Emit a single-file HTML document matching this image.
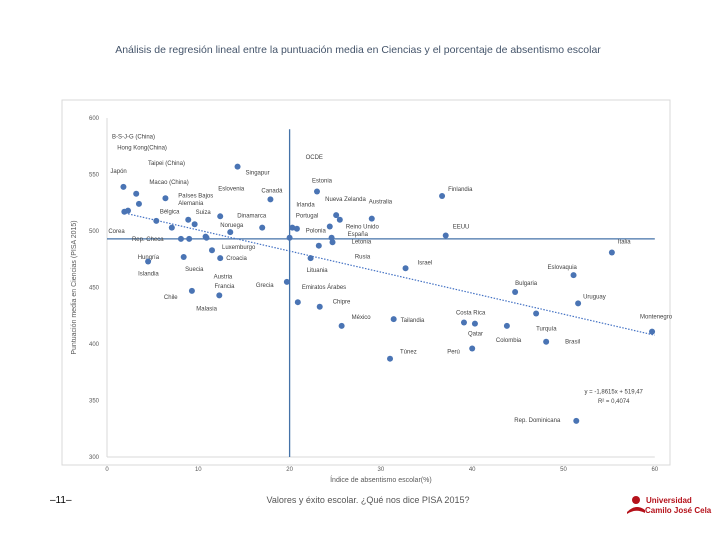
<!DOCTYPE html>
<html><head><meta charset="utf-8"><style>
body{margin:0;background:#fff;font-family:"Liberation Sans",sans-serif}
#wrap{position:relative;width:720px;height:540px;overflow:hidden}
</style></head><body>
<div id="wrap">
<svg id="svg" width="720" height="540">
<text x="358" y="53" text-anchor="middle" font-size="10.5" fill="#44546a">Análisis de regresión lineal entre la puntuación media en Ciencias y el porcentaje de absentismo escolar</text>
<rect x="62" y="100" width="608" height="365" fill="none" stroke="#d9d9d9"/>
<text x="50" y="503" font-size="10" fill="#000">–11–</text>
<text x="368" y="503" text-anchor="middle" font-size="9" fill="#555">Valores y éxito escolar. ¿Qué nos dice PISA 2015?</text>
<g>
<circle cx="636" cy="500" r="4" fill="#b5121b"/>
<path d="M627 512 Q636 503 645 510 L645 513 Q636 508 627 514Z" fill="#b5121b"/>
<text x="646" y="503" font-size="8" font-weight="bold" fill="#b5121b">Universidad</text>
<text x="645" y="513" font-size="8" font-weight="bold" fill="#b5121b">Camilo José Cela</text>
</g>
<g id="g"></g>
</svg>
</div>
<script>
const names=["Japón","B-S-J-G (China)","Corea","Hong Kong(China)","Taipei (China)","Macao (China)","Países Bajos","Bélgica","Suiza","Alemania","Eslovenia","Noruega","Dinamarca","Canadá","Singapur","Rep. Checa","Suecia","Luxemburgo","Croacia","Austria","Hungría","Islandia","Chile","Malasia","Grecia","OCDE","Irlanda","Portugal","Estonia","Nueva Zelanda","Reino Unido","Polonia","Australia","Finlandia","EEUU","España","Letonia","Rusia","Lituania","Israel","Italia","Eslovaquia","Bulgaria","Uruguay","Montenegro","Turquía","Brasil","Colombia","Costa Rica","Qatar","Perú","Túnez","Tailandia","México","Chipre","Emiratos Árabes","Rep. Dominicana","Francia"];
const absent=[1.8,2.3,1.9,3.2,3.5,6.4,8.9,7.1,9.6,5.4,12.4,13.5,17,17.9,14.3,8.1,9,11.5,12.4,10.8,8.4,4.5,9.3,12.3,19.7,20,20.3,20.8,23,25.1,25.5,24.4,29,36.7,37.1,24.6,24.7,23.2,22.3,32.7,55.3,51.1,44.7,51.6,59.7,47,48.1,43.8,39.1,40.3,40,31,31.4,25.7,23.3,20.9,51.4,10.9];
const score=[539,518,517,533,524,529,510,503,506,509,513,499,503,528,557,493,493,483,476,495,477,473,447,443,455,494,503,502,535,514,510,504,511,531,496,494,490,487,476,467,481,461,446,436,411,427,402,416,419,418,396,387,422,416,433,437,332,494];
const xTicks=[0,10,20,30,40,50,60];
const yTicks=[300,350,400,450,500,550,600];
const slope=-1.8615, intercept=519.47, meanScore=493, meanAbsent=20;
// label offsets (style only): left edge dx, center dy
const off=[[-13,-16],[-16,-74],[-16,19],[-19,-46],[9,-41],[-16,-16],[-10,-24],[-12,-16],[1,-12],[22,-18],[-2,-28],[-10,-7],[-25,-12],[-9,-9],[8,6],[-49,0],[-4,30],[10,-3],[6,0],[8,40],[-46,0],[-10,12],[-28,6],[-23,13],[-31,3],[16,-81],[4,-23],[-1,-13],[-5,-11],[-11,-16],[6,7],[-24,4],[-3,-17],[6,-7],[7,-9],[16,-4],[19,-1],[36,11],[-4,12],[12,-6],[6,-11],[-26,-8],[0,-9],[5,-7],[-12,-15],[0,15],[19,0],[-11,14],[-8,-10],[-7,10],[-25,3],[10,-7],[7,1],[10,-9],[13,-5],[4,-15],[-62,-1],[8,48]];
const X=v=>107+v*9.13, Y=v=>118+(600-v)*1.13;
const g=document.getElementById('g');const NS="http://www.w3.org/2000/svg";
function mk(t,a,p){const e=document.createElementNS(NS,t);for(const k in a)e.setAttribute(k,a[k]);(p||g).appendChild(e);return e;}
let e;
mk('line',{x1:X(0),y1:Y(600),x2:X(0),y2:Y(300),stroke:'#d9d9d9'});
mk('line',{x1:X(0),y1:Y(300),x2:X(60),y2:Y(300),stroke:'#d9d9d9'});
xTicks.forEach(t=>{e=mk('text',{x:X(t),y:Y(300)+14,'text-anchor':'middle','font-size':6,fill:'#595959'});e.textContent=t;

});
yTicks.forEach(t=>{e=mk('text',{x:X(0)-8,y:Y(t)+2,'text-anchor':'end','font-size':6,fill:'#595959'});e.textContent=t;

});
e=mk('text',{x:X(30),y:482,'text-anchor':'middle','font-size':7,fill:'#595959'});e.textContent='Índice de absentismo escolar(%)';


e=mk('text',{x:0,y:0,transform:`translate(76,${Y(450)}) rotate(-90)`,'text-anchor':'middle','font-size':7,fill:'#595959'});e.textContent='Puntuación media en Ciencias (PISA 2015)';


e=mk('line',{x1:X(0),y1:Y(meanScore),x2:X(60),y2:Y(meanScore),stroke:'#4472a8','stroke-width':1.3});


e=mk('line',{x1:X(meanAbsent),y1:Y(590),x2:X(meanAbsent),y2:Y(300),stroke:'#4472a8','stroke-width':1.3});


e=mk('line',{x1:X(2),y1:Y(intercept+slope*2),x2:X(60),y2:Y(intercept+slope*60),stroke:'#4472c4','stroke-width':1.2,'stroke-dasharray':'1.5,1.5'});


e=mk('text',{x:X(55.5),y:Y(356),'text-anchor':'middle','font-size':6,fill:'#404040'});e.textContent='y = -1,8615x + 519,47';


e=mk('text',{x:X(55.5),y:Y(348),'text-anchor':'middle','font-size':6,fill:'#404040'});e.textContent='R² = 0,4074';


names.forEach((n,i)=>{const cx=X(absent[i]),cy=Y(score[i]);
e=mk('circle',{cx,cy,r:3,fill:'#4a74b4'});


const o=off[i];e=mk('text',{x:cx+o[0],y:cy+o[1]+2,'font-size':6,fill:'#404040'});e.textContent=n;

});
</script>
</body></html>
